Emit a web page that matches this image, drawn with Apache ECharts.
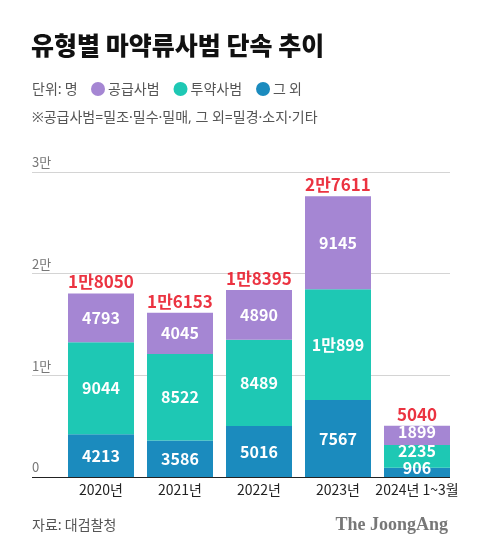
<!DOCTYPE html>
<html><head><meta charset="utf-8">
<script src="https://cdn.jsdelivr.net/npm/echarts@6/dist/echarts.min.js"></script>
<style>html,body{margin:0;padding:0;background:#fff}#c{width:480px;height:553px}</style>
</head><body><div id="c"></div>
<script>
const categories = ['2020년', '2021년', '2022년', '2023년', '2024년 1~3월'];
const others = [4213, 3586, 5016, 7567, 906];
const dosing = [9044, 8522, 8489, 10899, 2235];
const supply = [4793, 4045, 4890, 9145, 1899];
const totals = [18050, 16153, 18395, 27611, 5040];
const yTicks = [0, 10000, 20000, 30000];

const F = '"Noto Sans CJK KR", "Noto Sans", sans-serif';
const FL = '"Noto Sans", "Noto Sans CJK KR", sans-serif';
function fmt(v){ return v >= 10000 ? Math.floor(v/10000) + '만' + (v % 10000) : String(v); }
function tick(v){ return v === 0 ? '0' : (v/10000) + '만'; }
function withNudge(arr, dy){ return arr.map((v,i)=> i === arr.length-1 ? {value:v, label:{offset:[0,dy]}} : v); }

const chart = echarts.init(document.getElementById('c'), null, {renderer:'canvas'});
const inLabel = {show:true, position:'inside', color:'#fff', fontFamily:F, fontWeight:'bold', fontSize:16, formatter:p=>fmt(p.value)};
chart.setOption({
  animation:false,
  backgroundColor:'#fff',
  title:[
    {text:'유형별 마약류사범 단속 추이', left:31, top:33, padding:0, textStyle:{fontFamily:F, fontWeight:900, fontSize:25, color:'#111'}},
    {text:'단위: 명', left:32, top:82, padding:0, textStyle:{fontFamily:F, fontWeight:'normal', fontSize:14, color:'#555'}},
    {text:'※공급사범=밀조·밀수·밀매, 그 외=밀경·소지·기타', left:32, top:111, padding:0, textStyle:{fontFamily:FL, fontWeight:'normal', fontSize:14, color:'#555'}},
    {text:'자료: 대검찰청', left:32, top:518, padding:0, textStyle:{fontFamily:F, fontWeight:'normal', fontSize:14, color:'#555'}},
    {text:'The JoongAng', right:32, top:516, padding:0, textStyle:{fontFamily:'"Liberation Serif", "DejaVu Serif", serif', fontWeight:'bold', fontSize:18, color:'#777'}}
  ],
  legend:{
    left:91, top:82, padding:0, icon:'circle', itemWidth:14, itemHeight:14, itemGap:14,
    data:['공급사범','투약사범','그 외'],
    textStyle:{fontFamily:F, fontSize:14, color:'#555', padding:[0,0,0,-2]}
  },
  grid:[
    {left:32, right:30, top:172, bottom:76, show:false},
    {left:61.5, right:23.5, top:172, bottom:76, show:false}
  ],
  xAxis:[
    {type:'value', gridIndex:0, min:0, max:1, show:false},
    {type:'category', gridIndex:1, data:categories, axisLine:{show:false}, axisTick:{show:false},
     axisLabel:{fontFamily:F, fontSize:14, color:'#222', margin:6, interval:0}}
  ],
  yAxis:[
    {type:'value', gridIndex:0, min:0, max:30000, interval:10000,
     axisLine:{show:false, onZero:false, lineStyle:{opacity:0, width:0}}, axisTick:{show:false},
     axisLabel:{inside:false, margin:0, verticalAlign:'bottom', align:'left', padding:[0,0,3,0], fontFamily:F, fontSize:13, color:'#777', formatter:v=>tick(v)},
     splitLine:{show:true, lineStyle:{color:['#222','#d4d4d4','#d4d4d4','#d4d4d4'], width:1}}},
    {type:'value', gridIndex:1, min:0, max:30000, interval:10000, show:false}
  ],
  series:[
    {name:'그 외', type:'bar', stack:'s', xAxisIndex:1, yAxisIndex:1, data:withNudge(others,-4), barWidth:66, itemStyle:{color:'#1B8BBE'}, label:inLabel},
    {name:'투약사범', type:'bar', stack:'s', xAxisIndex:1, yAxisIndex:1, data:withNudge(dosing,-6), barWidth:66, itemStyle:{color:'#1EC8B4'}, label:inLabel},
    {name:'공급사범', type:'bar', stack:'s', xAxisIndex:1, yAxisIndex:1, data:withNudge(supply,-3), barWidth:66, itemStyle:{color:'#A586D3'}, label:inLabel},
    {name:'합계', type:'scatter', xAxisIndex:1, yAxisIndex:1, data:totals, symbolSize:0, silent:true,
     label:{show:true, position:'top', distance:3, color:'#E60012', fontFamily:F, fontWeight:'bold', fontSize:17, formatter:p=>fmt(p.value)}}
  ]
});
</script></body></html>
